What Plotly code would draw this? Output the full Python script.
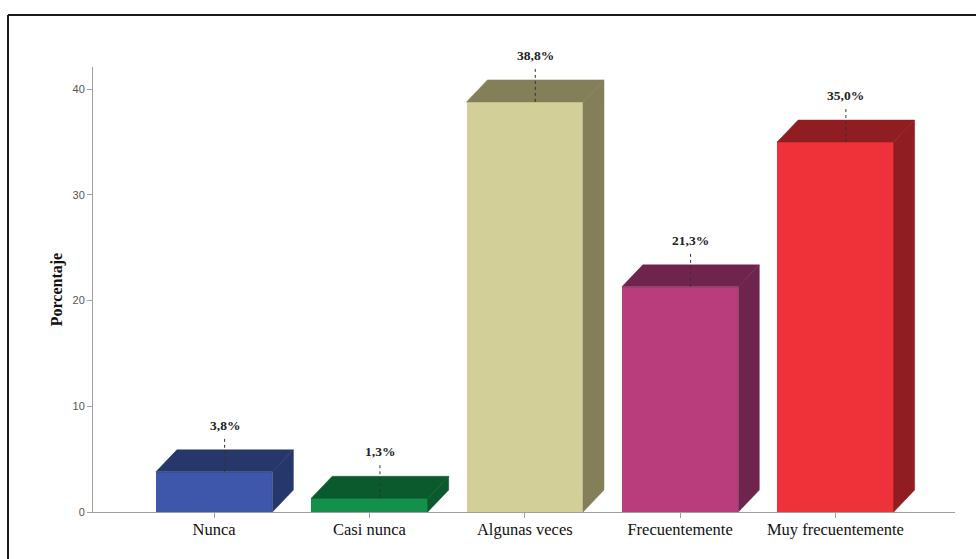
import plotly.graph_objects as go

# Frecuencia de respuesta (porcentaje)
categorias = ["Nunca", "Casi nunca", "Algunas veces", "Frecuentemente", "Muy frecuentemente"]
porcentajes = [3.8, 1.3, 38.8, 21.3, 35.0]
colores_frente = ["#3F57AA", "#13904A", "#D3CF98", "#B93D7C", "#EF3239"]
colores_fondo = ["#26376B", "#0B5A2E", "#827F59", "#6F244D", "#8F1D22"]

ANCHO = 0.75      # ancho de la cara frontal (unidades de categoría)
DX = 0.135        # profundidad horizontal del efecto 3D
DY = 2.08         # profundidad vertical del efecto 3D (unidades del eje y)

fig = go.Figure()

# Cara frontal de cada barra
fig.add_trace(go.Bar(
    x=list(range(len(categorias))), y=porcentajes, width=ANCHO,
    marker=dict(color=colores_frente, line=dict(width=0)),
    showlegend=False, hoverinfo="skip",
))

# Caras superior y lateral (efecto de profundidad)
for i, (v, cf) in enumerate(zip(porcentajes, colores_fondo)):
    x0, x1 = i - ANCHO / 2, i + ANCHO / 2
    fig.add_trace(go.Scatter(
        x=[x0, x0 + DX, x1 + DX, x1, x0], y=[v, v + DY, v + DY, v, v],
        fill="toself", fillcolor=cf, mode="lines", line=dict(width=0.5, color=cf),
        showlegend=False, hoverinfo="skip",
    ))
    fig.add_trace(go.Scatter(
        x=[x1, x1 + DX, x1 + DX, x1, x1], y=[0, DY, v + DY, v, 0],
        fill="toself", fillcolor=cf, mode="lines", line=dict(width=0.5, color=cf),
        showlegend=False, hoverinfo="skip",
    ))
    # Línea guía punteada hacia la etiqueta
    xc = i + DX / 2
    fig.add_trace(go.Scatter(
        x=[xc, xc], y=[v, v + DY + 1.3], mode="lines",
        line=dict(color="#333333", width=1, dash="dot"),
        showlegend=False, hoverinfo="skip",
    ))
    fig.add_annotation(
        x=xc, y=v + DY, yshift=15, yanchor="bottom", showarrow=False,
        text="<b>" + f"{v:.1f}".replace(".", ",") + "%</b>",
        font=dict(family="Liberation Serif", size=13.5, color="#222222"),
    )

# Marco exterior
fig.add_shape(type="line", xref="paper", yref="paper", x0=-0.0986, x1=1.03, y0=1.1169, y1=1.1169,
              line=dict(color="#1a1a1a", width=2))
fig.add_shape(type="line", xref="paper", yref="paper", x0=-0.0986, x1=-0.0986, y0=1.1169, y1=-0.12,
              line=dict(color="#1a1a1a", width=2))

fig.update_layout(
    width=976, height=559,
    margin=dict(l=93, r=21, t=67, b=47),
    paper_bgcolor="white", plot_bgcolor="white",
    bargap=0,
    xaxis=dict(
        range=[-0.78, 4.77], tickvals=list(range(len(categorias))), ticktext=categorias,
        showline=True, linecolor="#A0A0A0", linewidth=1,
        ticks="outside", ticklen=5, tickcolor="#A0A0A0",
        showgrid=False, zeroline=False, ticklabelstandoff=-3,
        tickfont=dict(family="Liberation Serif", size=16.5, color="#111111"),
    ),
    yaxis=dict(
        range=[0, 42.1], tickvals=[0, 10, 20, 30, 40],
        showline=True, linecolor="#A0A0A0", linewidth=1,
        ticks="outside", ticklen=5, tickcolor="#A0A0A0",
        showgrid=False, zeroline=False,
        tickfont=dict(family="Liberation Sans", size=11, color="#555555"),
        title=dict(text="<b>Porcentaje</b>", standoff=5,
                   font=dict(family="Liberation Serif", size=16, color="#111111")),
    ),
)

fig.write_html("out.html")
